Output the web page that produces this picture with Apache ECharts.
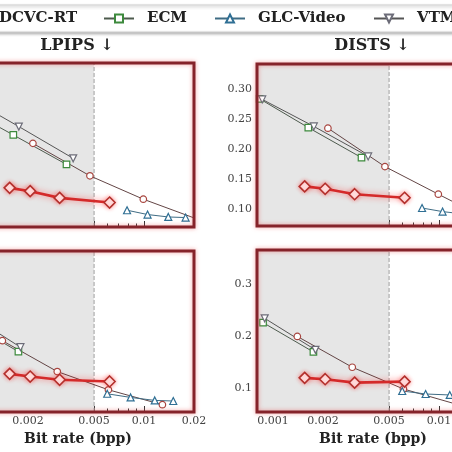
<!DOCTYPE html>
<html><head><meta charset="utf-8">
<script src="https://cdn.jsdelivr.net/npm/echarts@6/dist/echarts.min.js"></script>
<style>html,body{margin:0;padding:0;background:#fff;overflow:hidden}#c{width:452px;height:452px}</style>
</head><body><div id="c"></div>
<script>
// ---- tick labels / constants ----
const xTicksMajor = [0.001, 0.002, 0.005, 0.01, 0.02];
const xTicksMinor = [0.0009, 0.003, 0.004, 0.006, 0.007, 0.008, 0.009];
const distsTopTicks = [0.10, 0.15, 0.20, 0.25, 0.30];
const distsBotTicks = [0.1, 0.2, 0.3];
const lpipsTicks = [0.1, 0.2, 0.3, 0.4, 0.5];
const threshold = 0.005;
const panelTitles = ['LPIPS ↓', 'DISTS ↓'];
const legendNames = ['DCVC-RT', 'ECM', 'GLC-Video', 'VTM'];

// ---- bit rates (bpp) ----
const oursX    = [0.00155, 0.00206, 0.0031, 0.0062];
const ecmXTop  = [0.00083, 0.00163, 0.00341];
const vtmXTop  = [0.00086, 0.00176, 0.00374];
const dcvcXTop = [0.00214, 0.00472, 0.0099, 0.021];
const glcXTop  = [0.0079, 0.0105, 0.014, 0.0178];
const ecmXBot  = [0.00087, 0.00175];
const vtmXBot  = [0.00089, 0.0018];
const dcvcXBot = [0.0014, 0.003, 0.0061, 0.0129];
const glcXBot  = [0.006, 0.0083, 0.0116, 0.015];

// ---- top-left: LPIPS ----
const lpipsTopOurs = [0.1955, 0.1874, 0.171, 0.1597];
const lpipsTopEcm  = [0.390, 0.3245, 0.2527];
const lpipsTopVtm  = [0.417, 0.345, 0.2675];
const lpipsTopDcvc = [0.304, 0.2248, 0.1678, 0.119];
const lpipsTopGlc  = [0.1409, 0.1304, 0.1245, 0.123];
// ---- top-right: DISTS ----
const distsTopOurs = [0.138, 0.134, 0.125, 0.119];
const distsTopEcm  = [0.284, 0.236, 0.186];
const distsTopVtm  = [0.283, 0.238, 0.188];
const distsTopDcvc = [0.235, 0.171, 0.125, 0.079];
const distsTopGlc  = [0.102, 0.096, 0.092, 0.090];
// ---- bottom-left: LPIPS ----
const lpipsBotOurs = [0.1948, 0.1881, 0.18, 0.1758];
const lpipsBotEcm  = [0.3228, 0.25];
const lpipsBotVtm  = [0.3416, 0.261];
const lpipsBotDcvc = [0.2772, 0.2005, 0.1552, 0.1181];
const lpipsBotGlc  = [0.1453, 0.1362, 0.1288, 0.1273];
// ---- bottom-right: DISTS ----
const distsBotOurs = [0.119, 0.1163, 0.1097, 0.1116];
const distsBotEcm  = [0.2257, 0.169];
const distsBotVtm  = [0.234, 0.173];
const distsBotDcvc = [0.199, 0.1395, 0.0975, 0.0675];
const distsBotGlc  = [0.0936, 0.0878, 0.0859, 0.085];

const FONT = 'DejaVu Serif';
const pairs = (xs, ys) => xs.map((x, i) => [x, ys[i]]);

const styles = {
  'Ours':      {symbol: 'diamond', size: 11, line: '#d42a2a', mark: '#b3302c', fill: '#fff3f3', width: 2.6, glow: true},
  'DCVC-RT':   {symbol: 'circle', size: 6.5, line: '#634545', mark: '#a8453f', fill: '#fff', width: 1},
  'ECM':       {symbol: 'rect', size: 6.5, line: '#4d5a4d', mark: '#3d8a3d', fill: '#fff', width: 1},
  'GLC-Video': {symbol: 'triangle', size: 7, line: '#3f6c84', mark: '#2f6f94', fill: '#fff', width: 1},
  'VTM':       {symbol: 'path://M0,0 L10,0 L5,9 Z', size: 7, line: '#555', mark: '#6c6c78', fill: '#fff', width: 1}
};

const panels = [
  {grid: {left: -38, top: 63, width: 232, height: 164}, yMin: 0.10, yMax: 0.50, yTicks: lpipsTicks, showY: false, showX: false, dec: 1,
   data: {'Ours': [oursX, lpipsTopOurs], 'ECM': [ecmXTop, lpipsTopEcm], 'VTM': [vtmXTop, lpipsTopVtm], 'DCVC-RT': [dcvcXTop, lpipsTopDcvc], 'GLC-Video': [glcXTop, lpipsTopGlc]}},
  {grid: {left: 257, top: 64, width: 232, height: 162}, yMin: 0.072, yMax: 0.342, yTicks: distsTopTicks, showY: true, showX: false, dec: 2,
   data: {'Ours': [oursX, distsTopOurs], 'ECM': [ecmXTop, distsTopEcm], 'VTM': [vtmXTop, distsTopVtm], 'DCVC-RT': [dcvcXTop, distsTopDcvc], 'GLC-Video': [glcXTop, distsTopGlc]}},
  {grid: {left: -38, top: 251, width: 232, height: 161}, yMin: 0.10, yMax: 0.50, yTicks: lpipsTicks, showY: false, showX: true, dec: 1,
   data: {'Ours': [oursX, lpipsBotOurs], 'ECM': [ecmXBot, lpipsBotEcm], 'VTM': [vtmXBot, lpipsBotVtm], 'DCVC-RT': [dcvcXBot, lpipsBotDcvc], 'GLC-Video': [glcXBot, lpipsBotGlc]}},
  {grid: {left: 257, top: 250, width: 232, height: 162}, yMin: 0.053, yMax: 0.366, yTicks: distsBotTicks, showY: true, showX: true, dec: 1,
   data: {'Ours': [oursX, distsBotOurs], 'ECM': [ecmXBot, distsBotEcm], 'VTM': [vtmXBot, distsBotVtm], 'DCVC-RT': [dcvcXBot, distsBotDcvc], 'GLC-Video': [glcXBot, distsBotGlc]}}
];

const grid = [], xAxis = [], yAxis = [], series = [];
const X_MIN = 0.0008, X_MAX = 0.02;
panels.forEach((p, g) => {
  grid.push(Object.assign({show: true, z: 5, containLabel: false, outerBoundsMode: 'none',
    backgroundColor: 'rgba(0,0,0,0)', borderColor: '#85232a', borderWidth: 3,
    shadowColor: 'rgba(235,80,80,0.55)', shadowBlur: 4}, p.grid));
  xAxis.push({
    type: 'log', gridIndex: g, min: X_MIN, max: X_MAX, position: 'bottom',
    axisLine: {show: false}, splitLine: {show: false},
    axisTick: {show: true, inside: true, length: 6, customValues: xTicksMajor, lineStyle: {color: '#333', width: 1}},
    axisLabel: {show: p.showX, customValues: xTicksMajor, margin: 4, fontFamily: FONT, fontSize: 11, color: '#444',
      hideOverlap: false, formatter: v => String(+(+v).toPrecision(3))},
    name: p.showX ? 'Bit rate (bpp)' : '', nameLocation: 'middle', nameGap: 20,
    nameTextStyle: {fontFamily: FONT, fontWeight: 'bold', fontSize: 14, color: '#222'}
  });
  xAxis.push({
    type: 'log', gridIndex: g, min: X_MIN, max: X_MAX, position: 'bottom',
    axisLine: {show: false}, splitLine: {show: false},
    axisTick: {show: true, inside: true, length: 3.5, customValues: xTicksMinor, lineStyle: {color: '#333', width: 1}},
    axisLabel: {show: false}
  });
  yAxis.push({
    type: 'value', gridIndex: g, min: p.yMin, max: p.yMax,
    axisLine: {show: false}, splitLine: {show: false},
    axisTick: {show: true, inside: true, length: 4, customValues: p.yTicks, lineStyle: {color: '#333'}},
    axisLabel: {show: p.showY, customValues: p.yTicks, margin: 5, fontFamily: FONT, fontSize: 11, color: '#444',
      formatter: v => (+v).toFixed(p.dec)}
  });
  // dashed threshold line at 0.005 bpp (drawn through the axes)
  series.push({
    type: 'line', name: 'threshold', xAxisIndex: 2 * g, yAxisIndex: g, z: 2, silent: true,
    data: [[threshold, p.yMin], [threshold, p.yMax]], showSymbol: false, symbol: 'none',
    lineStyle: {type: 'dashed', color: '#a0a0a0', width: 1}, emphasis: {disabled: true},
    markArea: {silent: true, z: 1, itemStyle: {color: '#e6e6e6'},
      data: [[{xAxis: X_MIN}, {xAxis: threshold}]]}
  });
  ['Ours', 'DCVC-RT', 'ECM', 'GLC-Video', 'VTM'].forEach(name => {
    const s = styles[name];
    const d = p.data[name];
    const ser = {
      type: 'line', name: name, xAxisIndex: 2 * g, yAxisIndex: g,
      data: pairs(d[0], d[1]), symbol: s.symbol, symbolSize: s.size, showSymbol: true, clip: true,
      z: name === 'Ours' ? 4 : 3,
      lineStyle: {color: s.line, width: s.width},
      itemStyle: {color: s.fill, borderColor: s.mark, borderWidth: name === 'Ours' ? 1.6 : 1.2},
      emphasis: {disabled: true}
    };
    if (s.glow) {
      ser.lineStyle.shadowColor = 'rgba(255,40,40,0.6)';
      ser.lineStyle.shadowBlur = 6;
      ser.itemStyle.shadowColor = 'rgba(255,40,40,0.45)';
      ser.itemStyle.shadowBlur = 4;
    }
    series.push(ser);
  });
});

const legendLeft = [-45, 103, 214, 373];
const legend = legendNames.map((n, i) => ({
  data: [n], left: legendLeft[i], top: 11, padding: 0, itemWidth: 30, itemHeight: 10,
  selectedMode: false, z: 6,
  textStyle: {fontFamily: FONT, fontWeight: 'bold', fontSize: 15, color: '#222', padding: [0, 0, 0, 8]}
}));

const title = panelTitles.map((t, i) => ({
  text: t, left: i === 0 ? 77 : 372, top: 38, textAlign: 'center', padding: 0,
  textStyle: {fontFamily: FONT, fontWeight: 'bold', fontSize: 16, color: '#222'}
}));

const chart = echarts.init(document.getElementById('c'), null, {renderer: 'canvas'});
chart.setOption({
  animation: false,
  backgroundColor: '#fff',
  title, legend, grid, xAxis, yAxis, series,
  graphic: [{type: 'rect', z: -10, silent: true, shape: {x: -10, y: 5, width: 475, height: 27},
    style: {fill: '#fff', stroke: '#cfcfcf', lineWidth: 1, shadowColor: 'rgba(0,0,0,0.3)', shadowBlur: 3, shadowOffsetY: 1.5}}]
});
</script></body></html>
